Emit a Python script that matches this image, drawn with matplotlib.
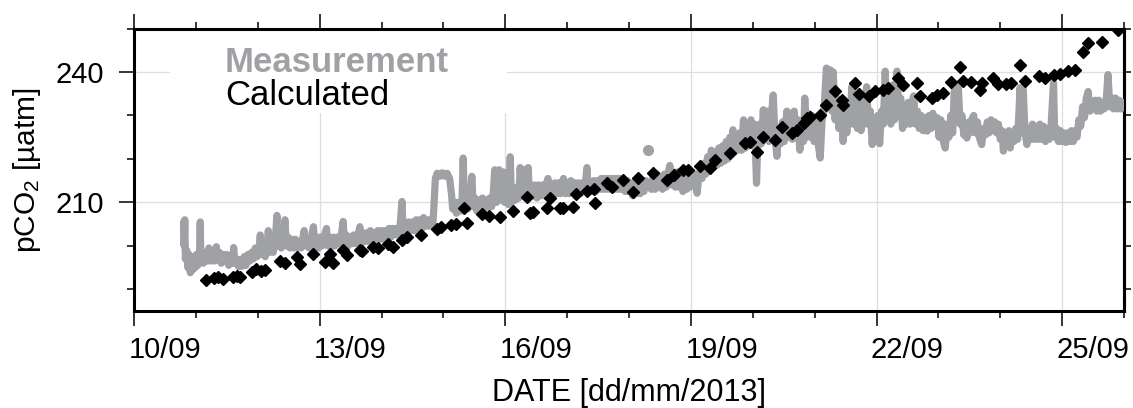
import numpy as np
import matplotlib
matplotlib.use('Agg')
import matplotlib.pyplot as plt
import matplotlib.transforms as mtransforms
from matplotlib.ticker import MultipleLocator
from matplotlib.patches import Rectangle

plt.rcParams['font.family'] = ['Liberation Sans', 'DejaVu Sans']
plt.rcParams['mathtext.default'] = 'regular'

# x values are day of September 2013
date_ticks = [10, 13, 16, 19, 22, 25]
date_labels = ['10/09', '13/09', '16/09', '19/09', '22/09', '25/09']
pco2_ticks = [210, 240]

# measured pCO2 (dense underway record), [day, value]
meas_pts = [
    [10.80, 205.5], [10.81, 200.0], [10.82, 206.0], [10.83, 197.0], [10.85, 199.0],
    [10.87, 195.0], [10.89, 198.0], [10.91, 193.8], [10.93, 197.0], [10.95, 194.5],
    [10.97, 197.5], [10.99, 195.0], [11.01, 198.0], [11.03, 195.5], [11.06, 199.0],
    [11.07, 205.5], [11.08, 197.0], [11.10, 198.5], [11.12, 196.0], [11.15, 198.5],
    [11.18, 196.5], [11.21, 199.5], [11.24, 196.5], [11.27, 198.5], [11.30, 196.5],
    [11.33, 199.8], [11.35, 196.8], [11.38, 198.5], [11.41, 196.0], [11.44, 198.0],
    [11.47, 196.5], [11.50, 198.0], [11.53, 195.5], [11.56, 197.5], [11.59, 196.0],
    [11.61, 199.6], [11.63, 196.0], [11.66, 197.0], [11.69, 195.2], [11.72, 196.8],
    [11.75, 195.3], [11.78, 197.5], [11.81, 195.5], [11.84, 198.0], [11.87, 196.5],
    [11.90, 198.5], [11.93, 197.0], [11.96, 199.5], [11.99, 197.5], [12.02, 199.0],
    [12.04, 202.5], [12.06, 198.0], [12.09, 200.0], [12.12, 197.5], [12.15, 200.0],
    [12.17, 203.5], [12.19, 198.5], [12.22, 200.5], [12.25, 198.5], [12.28, 201.0],
    [12.31, 207.0], [12.32, 200.0], [12.35, 201.5], [12.38, 199.5], [12.41, 202.0],
    [12.44, 206.0], [12.46, 200.0], [12.49, 202.0], [12.52, 199.5], [12.55, 201.5],
    [12.58, 199.5], [12.61, 201.5], [12.64, 199.5], [12.67, 201.0], [12.70, 199.5],
    [12.73, 202.0], [12.75, 203.5], [12.77, 200.0], [12.80, 201.5], [12.83, 199.5],
    [12.86, 201.5], [12.90, 204.4], [12.92, 200.0], [12.95, 202.0], [12.98, 199.5],
    [13.01, 202.0], [13.04, 200.0], [13.07, 202.0], [13.11, 204.0], [13.13, 200.0],
    [13.16, 202.0], [13.19, 199.8], [13.22, 202.0], [13.25, 200.0], [13.28, 202.0],
    [13.31, 200.5], [13.35, 202.5], [13.38, 205.6], [13.40, 200.5], [13.43, 202.5],
    [13.46, 200.0], [13.49, 202.0], [13.52, 200.5], [13.55, 202.5], [13.58, 200.5],
    [13.62, 202.5], [13.65, 204.4], [13.67, 200.5], [13.70, 203.0], [13.73, 201.0],
    [13.76, 203.0], [13.79, 201.0], [13.82, 203.5], [13.85, 201.0], [13.88, 203.0],
    [13.91, 201.5], [13.94, 203.5], [13.97, 201.5], [14.00, 203.5], [14.03, 201.5],
    [14.06, 203.5], [14.09, 202.0], [14.12, 204.0], [14.15, 202.0], [14.18, 204.0],
    [14.21, 202.5], [14.24, 204.0], [14.27, 202.5], [14.30, 204.5], [14.33, 210.2],
    [14.35, 203.0], [14.38, 205.0], [14.41, 203.0], [14.44, 205.5], [14.47, 203.5],
    [14.50, 205.5], [14.53, 203.5], [14.56, 206.0], [14.59, 204.0], [14.62, 206.0],
    [14.65, 204.0], [14.68, 206.5], [14.71, 204.5], [14.74, 206.0], [14.77, 204.5],
    [14.80, 206.0], [14.83, 205.0], [14.85, 210.0], [14.87, 215.5], [14.90, 216.7],
    [14.94, 216.0], [14.98, 216.8], [15.02, 216.0], [15.06, 216.7], [15.10, 215.5],
    [15.13, 212.0], [15.15, 208.5], [15.18, 210.0], [15.21, 207.5], [15.24, 210.0],
    [15.27, 208.0], [15.30, 210.0], [15.32, 220.2], [15.34, 209.0], [15.37, 211.0],
    [15.40, 208.5], [15.43, 211.0], [15.46, 216.0], [15.48, 209.0], [15.51, 211.0],
    [15.54, 208.0], [15.57, 210.5], [15.60, 208.0], [15.63, 211.0], [15.66, 208.5],
    [15.69, 210.5], [15.72, 209.0], [15.75, 211.0], [15.78, 209.0], [15.80, 211.0],
    [15.83, 217.5], [15.86, 210.0], [15.90, 217.5], [15.94, 210.5], [15.97, 217.0],
    [15.99, 210.0], [16.02, 213.0], [16.05, 209.5], [16.08, 220.5], [16.10, 210.0],
    [16.13, 213.0], [16.16, 210.5], [16.19, 213.5], [16.22, 211.0], [16.24, 218.0],
    [16.27, 211.5], [16.30, 217.5], [16.33, 211.0], [16.37, 218.0], [16.39, 211.5],
    [16.42, 214.0], [16.45, 211.5], [16.48, 214.0], [16.51, 211.0], [16.54, 214.0],
    [16.57, 211.5], [16.60, 214.0], [16.63, 211.5], [16.66, 214.0], [16.69, 215.5],
    [16.71, 211.5], [16.74, 214.0], [16.77, 212.0], [16.80, 214.5], [16.83, 212.0],
    [16.86, 214.5], [16.89, 212.0], [16.94, 215.5], [16.97, 212.0], [17.00, 214.5],
    [17.03, 212.0], [17.06, 215.0], [17.10, 212.5], [17.13, 214.5], [17.16, 212.0],
    [17.19, 214.5], [17.22, 212.0], [17.25, 214.5], [17.28, 212.5], [17.32, 218.0],
    [17.34, 212.5], [17.37, 214.5], [17.40, 212.5], [17.43, 215.0], [17.46, 212.5],
    [17.49, 215.0], [17.52, 213.0], [17.55, 215.5], [17.58, 213.0], [17.61, 215.5],
    [17.64, 213.0], [17.67, 215.5], [17.70, 213.0], [17.73, 215.5], [17.76, 213.0],
    [17.79, 215.5], [17.82, 213.0], [17.85, 215.5], [17.88, 213.0], [17.91, 215.0],
    [17.94, 212.5], [17.97, 215.0], [18.00, 212.5], [18.03, 214.5], [18.06, 211.5],
    [18.09, 214.0], [18.12, 212.0], [18.15, 214.5], [18.18, 212.0], [18.21, 214.5],
    [18.24, 212.5], [18.27, 215.0], [18.36, 213.0], [18.39, 216.0], [18.42, 213.0],
    [18.45, 216.5], [18.48, 213.5], [18.51, 216.0], [18.54, 213.0], [18.57, 216.5],
    [18.60, 213.5], [18.63, 216.5], [18.66, 218.5], [18.69, 214.0], [18.72, 217.0],
    [18.75, 213.5], [18.78, 217.0], [18.81, 213.5], [18.84, 217.0], [18.87, 212.5],
    [18.90, 217.0], [18.93, 213.0], [18.96, 217.0], [18.99, 213.5], [19.02, 217.0],
    [19.05, 214.0], [19.08, 216.5], [19.10, 212.1], [19.12, 215.0], [19.15, 217.0],
    [19.18, 215.5], [19.21, 219.0], [19.24, 216.5], [19.27, 220.5], [19.30, 217.5],
    [19.33, 222.0], [19.36, 218.0], [19.39, 221.5], [19.42, 218.5], [19.45, 222.5],
    [19.48, 219.0], [19.51, 223.0], [19.54, 219.5], [19.57, 224.0], [19.60, 220.0],
    [19.63, 225.0], [19.66, 221.0], [19.68, 226.7], [19.70, 221.5], [19.73, 225.5],
    [19.76, 222.0], [19.79, 226.0], [19.82, 222.0], [19.85, 229.0], [19.88, 222.5],
    [19.91, 227.5], [19.94, 223.0], [19.97, 229.0], [20.00, 223.5], [20.03, 228.0],
    [20.06, 214.4], [20.08, 224.0], [20.11, 228.0], [20.14, 223.5], [20.17, 231.3],
    [20.20, 224.5], [20.23, 231.0], [20.26, 224.0], [20.29, 228.0], [20.33, 234.7],
    [20.36, 224.5], [20.39, 220.6], [20.42, 227.0], [20.45, 223.5], [20.48, 228.5],
    [20.51, 224.0], [20.55, 231.0], [20.58, 225.0], [20.61, 230.5], [20.64, 224.5],
    [20.67, 231.0], [20.70, 225.0], [20.73, 229.0], [20.76, 222.0], [20.79, 228.0],
    [20.82, 224.0], [20.84, 234.0], [20.87, 225.0], [20.90, 230.5], [20.93, 225.0],
    [20.96, 230.0], [20.99, 224.0], [21.02, 229.0], [21.05, 224.0], [21.09, 220.2],
    [21.12, 229.0], [21.15, 231.0], [21.19, 240.9], [21.22, 232.0], [21.25, 240.5],
    [21.28, 231.0], [21.30, 240.0], [21.33, 229.0], [21.36, 234.0], [21.39, 227.0],
    [21.42, 233.0], [21.46, 224.0], [21.49, 230.0], [21.52, 226.0], [21.55, 233.0],
    [21.57, 228.0], [21.60, 236.6], [21.63, 228.0], [21.66, 233.0], [21.69, 227.0],
    [21.72, 234.0], [21.75, 226.5], [21.78, 233.0], [21.81, 228.0], [21.84, 236.6],
    [21.87, 228.0], [21.90, 231.0], [21.93, 223.3], [21.96, 229.0], [21.99, 224.0],
    [22.02, 230.0], [22.05, 223.5], [22.08, 231.0], [22.11, 228.0], [22.14, 240.2],
    [22.17, 229.0], [22.20, 236.0], [22.23, 228.0], [22.26, 237.0], [22.29, 229.0],
    [22.33, 240.2], [22.36, 230.0], [22.39, 234.0], [22.42, 227.0], [22.45, 231.0],
    [22.48, 228.0], [22.51, 233.0], [22.54, 228.0], [22.57, 233.0], [22.60, 234.5],
    [22.63, 228.0], [22.66, 231.0], [22.69, 227.0], [22.72, 230.0], [22.75, 226.5],
    [22.78, 229.5], [22.82, 226.4], [22.85, 230.0], [22.88, 227.0], [22.91, 230.5],
    [22.95, 227.5], [22.98, 229.5], [23.01, 225.0], [23.04, 229.0], [23.08, 224.0],
    [23.11, 222.5], [23.14, 228.0], [23.17, 225.0], [23.20, 230.0], [23.23, 226.0],
    [23.26, 237.0], [23.29, 229.0], [23.32, 237.0], [23.35, 228.0], [23.38, 230.0],
    [23.41, 225.5], [23.44, 228.0], [23.46, 224.8], [23.49, 228.5], [23.52, 226.0],
    [23.55, 229.5], [23.57, 230.0], [23.60, 226.0], [23.63, 228.5], [23.66, 225.0],
    [23.70, 223.3], [23.73, 227.0], [23.76, 225.5], [23.79, 228.5], [23.82, 226.0],
    [23.85, 229.0], [23.88, 226.5], [23.91, 228.5], [23.94, 226.0], [23.97, 228.0],
    [24.00, 224.5], [24.03, 226.5], [24.05, 221.8], [24.08, 226.0], [24.11, 224.0],
    [24.14, 226.5], [24.16, 222.5], [24.19, 226.0], [24.22, 224.0], [24.25, 227.0],
    [24.28, 224.5], [24.32, 236.4], [24.34, 226.0], [24.37, 236.0], [24.40, 226.0],
    [24.43, 223.3], [24.46, 227.0], [24.49, 224.5], [24.52, 228.0], [24.55, 224.5],
    [24.58, 227.5], [24.61, 224.5], [24.64, 228.0], [24.67, 224.5], [24.70, 227.5],
    [24.73, 224.0], [24.76, 227.0], [24.79, 224.5], [24.82, 227.5], [24.86, 237.5],
    [24.88, 225.0], [24.91, 227.0], [24.94, 224.0], [24.97, 226.5], [25.00, 224.0],
    [25.03, 226.0], [25.06, 223.8], [25.09, 226.0], [25.12, 224.0], [25.15, 226.5],
    [25.18, 224.0], [25.21, 226.5], [25.24, 225.0], [25.27, 229.0], [25.30, 227.5],
    [25.33, 232.0], [25.36, 229.5], [25.39, 234.0], [25.42, 235.5], [25.45, 231.0],
    [25.48, 233.0], [25.50, 231.7], [25.53, 233.5], [25.56, 231.0], [25.59, 233.5],
    [25.62, 231.0], [25.65, 233.0], [25.68, 231.5], [25.71, 233.0], [25.74, 239.4],
    [25.77, 232.0], [25.80, 234.0], [25.83, 231.5], [25.86, 234.0], [25.89, 231.5],
    [25.92, 233.5], [25.95, 231.5], [25.98, 233.0], [26.00, 232.0],
]
# one lone measurement off the record
spot_day = [18.31]
spot_val = [222.1]

# calculated pCO2, [day, value]
calc_pts = [
    [11.16, 192.2], [11.30, 192.6], [11.36, 192.8], [11.44, 192.4], [11.60, 192.9],
    [11.66, 193.1], [11.72, 192.8], [11.90, 193.9], [11.97, 194.6], [12.06, 194.2],
    [12.12, 194.5], [12.36, 196.4], [12.44, 196.0], [12.63, 197.5], [12.69, 195.9],
    [12.89, 198.2], [13.09, 196.2], [13.16, 198.2], [13.22, 196.0], [13.37, 199.1],
    [13.44, 197.9], [13.65, 199.1], [13.68, 198.8], [13.87, 199.8], [13.95, 199.5],
    [14.11, 200.5], [14.18, 199.7], [14.33, 201.4], [14.41, 202.1], [14.63, 202.5],
    [14.89, 203.8], [14.96, 204.4], [15.13, 204.8], [15.20, 205.0], [15.33, 208.7],
    [15.38, 205.2], [15.62, 207.4], [15.73, 206.8], [15.92, 206.7], [16.13, 207.9],
    [16.35, 211.3], [16.40, 207.5], [16.45, 207.8], [16.67, 208.7], [16.72, 211.0],
    [16.88, 208.7], [16.94, 208.7], [17.10, 209.0], [17.15, 212.0], [17.32, 212.5],
    [17.43, 213.0], [17.45, 209.8], [17.64, 214.4], [17.72, 213.5], [17.91, 215.2],
    [18.07, 212.3], [18.15, 215.6], [18.39, 216.7], [18.61, 215.2], [18.72, 216.3],
    [18.88, 217.5], [18.96, 217.5], [19.15, 218.4], [19.31, 217.9], [19.39, 219.8],
    [19.63, 221.3], [19.87, 223.6], [19.95, 224.0], [20.07, 221.7], [20.17, 225.1],
    [20.36, 224.4], [20.47, 227.4], [20.63, 225.9], [20.71, 226.6], [20.82, 228.3],
    [20.87, 229.4], [20.93, 229.6], [21.09, 230.0], [21.19, 232.3], [21.33, 235.7],
    [21.44, 233.6], [21.46, 232.5], [21.65, 237.5], [21.71, 234.9], [21.87, 234.4],
    [21.97, 235.6], [22.11, 235.9], [22.19, 236.3], [22.35, 238.6], [22.43, 237.1],
    [22.65, 237.5], [22.71, 234.4], [22.89, 234.0], [22.97, 234.8], [23.08, 235.2],
    [23.21, 237.7], [23.35, 241.1], [23.40, 238.0], [23.53, 237.8], [23.67, 235.9],
    [23.70, 237.4], [23.89, 238.6], [23.97, 237.3], [24.10, 237.2], [24.18, 237.5],
    [24.32, 241.7], [24.40, 237.9], [24.62, 239.0], [24.73, 238.6], [24.86, 239.4],
    [24.97, 239.6], [25.10, 240.2], [25.21, 240.4], [25.34, 244.6], [25.42, 246.7],
    [25.65, 246.9], [25.91, 249.7],
]

grey = '#a0a1a5'

fig = plt.figure(figsize=(11.33, 4.08), dpi=100)
ax = fig.add_axes([0.1183, 0.2377, 0.8738, 0.6924])

meas = np.array(meas_pts)
calc = np.array(calc_pts)

ax.plot(meas[:, 0], meas[:, 1], color=grey, lw=5.2,
        solid_capstyle='round', solid_joinstyle='round', zorder=3)
ax.plot(spot_day, spot_val, 'o', color=grey, ms=7, zorder=3)
ax.plot(calc[:, 0], calc[:, 1], 'D', color='black', ms=6.2, zorder=4)

ax.set_xlim(10, 26)
ax.set_ylim(185, 250)

# white box behind the legend text hides the grid there
ax.add_patch(Rectangle((10.58, 230.6), 16.02 - 10.58, 250 - 230.6,
                       facecolor='white', edgecolor='none', zorder=1))
ax.text(11.47, 240, 'Measurement', fontsize=25, fontweight='bold',
        color=grey, va='baseline', zorder=5)
ax.text(11.47, 232.3, 'Calculated', fontsize=25, color='black',
        va='baseline', zorder=5)

# ticks
ax.set_xticks(date_ticks)
ax.set_xticklabels(date_labels, ha='left')
ax.xaxis.set_minor_locator(MultipleLocator(1))
ax.set_yticks(pco2_ticks)
ax.yaxis.set_minor_locator(MultipleLocator(10))
ax.tick_params(which='major', direction='out', length=10.5, width=1.1,
               top=True, labelsize=21)
ax.tick_params(which='minor', direction='out', length=5, width=1.1, top=True)
ax.tick_params(axis='x', which='major', pad=7.5)
ax.tick_params(axis='y', which='major', pad=11)

# date labels start just left of their tick
shift = mtransforms.ScaledTranslation(-4 / 72, 0, fig.dpi_scale_trans)
for lab in ax.get_xticklabels():
    lab.set_transform(lab.get_transform() + shift)

sec = ax.secondary_yaxis('right')
sec.set_yticks(np.arange(190, 251, 10))
sec.tick_params(direction='out', length=5, width=1.1, labelright=False)
sec.spines['right'].set_linewidth(2.2)

for s in ax.spines.values():
    s.set_linewidth(2.2)

ax.grid(True, which='major', color='#dedede', lw=0.9)
ax.set_axisbelow(True)

ax.set_xlabel('DATE [dd/mm/2013]', fontsize=22, labelpad=10)
ax.set_ylabel('pCO$_2$ [µatm]', fontsize=21.5, labelpad=9)

fig.savefig('out.png', dpi=100)
